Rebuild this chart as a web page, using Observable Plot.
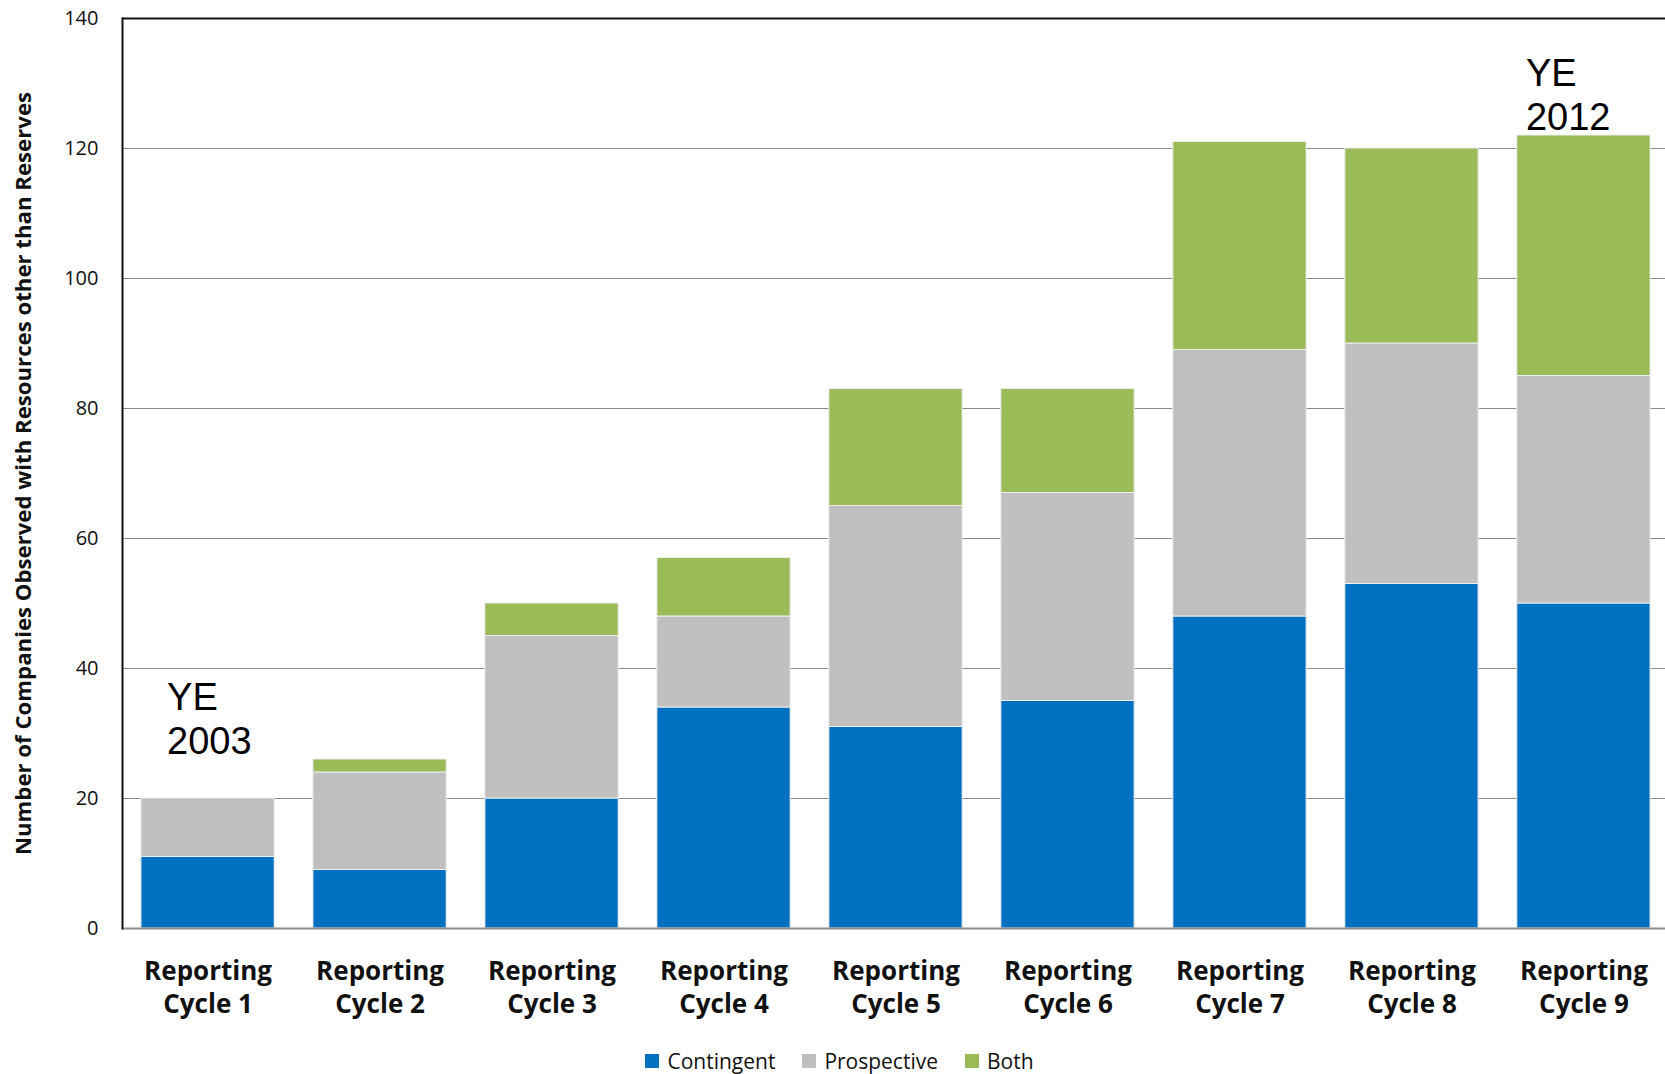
<!DOCTYPE html>
<html>
<head>
<meta charset="utf-8">
<script src="https://cdn.jsdelivr.net/npm/d3@7"></script>
<script src="https://cdn.jsdelivr.net/npm/@observablehq/plot@0.6"></script>
<style>
  html, body { margin: 0; padding: 0; background: #fff; overflow: hidden; }
  #chart { position: relative; width: 1665px; height: 1074px; overflow: hidden; }
  #legend {
    position: absolute; left: 0; top: 1049px; width: 1665px; height: 24px;
    display: flex; justify-content: center; align-items: center; gap: 27px;
    font-family: "Open Sans", sans-serif; font-size: 21px; line-height: 24px; color: #111;
    padding-left: 14px; box-sizing: border-box;
  }
  #legend .item { display: flex; align-items: center; gap: 8px; height: 24px; }
  #legend .sw { width: 14px; height: 14px; display: inline-block; }
</style>
</head>
<body>
<div id="chart"></div>
<script>
// Reporting cycles and company counts per resource class
const cycles = ["Reporting Cycle 1", "Reporting Cycle 2", "Reporting Cycle 3", "Reporting Cycle 4",
  "Reporting Cycle 5", "Reporting Cycle 6", "Reporting Cycle 7", "Reporting Cycle 8", "Reporting Cycle 9"];
const contingent  = [11, 9, 20, 34, 31, 35, 48, 53, 50];
const prospective = [9, 15, 25, 14, 34, 32, 41, 37, 35];
const both        = [0, 2, 5, 9, 18, 16, 32, 30, 37];

const seriesNames = ["Contingent", "Prospective", "Both"];
const seriesColors = ["#0070C0", "#BFBFBF", "#9BBB59"];
const yTicks = [0, 20, 40, 60, 80, 100, 120, 140];
const gridTicks = [20, 40, 60, 80, 100, 120];
const yLabel = "Number of Companies Observed with Resources other than Reserves";

// Callouts marking the first and last year-end
const startNote = {cycle: "Reporting Cycle 1", y: 38.5, text: "YE\n2003"};
const endNote   = {cycle: "Reporting Cycle 9", y: 134.5, text: "YE\n2012"};

const seriesValues = [contingent, prospective, both];
const rows = [];
cycles.forEach((c, i) => {
  seriesNames.forEach((s, j) => rows.push({cycle: c, series: s, value: seriesValues[j][i]}));
});

// The plot area runs slightly past the right edge of the page, so the last bar sits near the border
const chart = Plot.plot({
  width: 1665,
  height: 1048,
  marginTop: 18,
  marginBottom: 120,
  marginLeft: 122,
  marginRight: -4,
  style: {fontFamily: "Open Sans, sans-serif", background: "white"},
  x: {domain: cycles, paddingInner: 0.225, paddingOuter: 0.11, round: false},
  y: {domain: [0, 140]},
  color: {domain: seriesNames, range: seriesColors},
  marks: [
    Plot.ruleY(gridTicks, {stroke: "#8c8c8c", strokeWidth: 1.2}),
    Plot.barY(rows, Plot.stackY({
      x: "cycle", y: "value", fill: "series", order: seriesNames,
      stroke: "#eeeeee", strokeWidth: 1
    })),
    Plot.ruleY([0], {stroke: "#8c8c8c", strokeWidth: 2}),
    Plot.ruleY([140], {stroke: "#111", strokeWidth: 2}),
    Plot.axisY({
      ticks: yTicks, tickSize: 0, tickPadding: 24, label: null,
      fontSize: 20, fill: "#111", style: {letterSpacing: "1.2px"}
    }),
    Plot.axisX({
      tickSize: 0, tickPadding: 27, label: null, fontSize: 26, fontWeight: "bold",
      fill: "#111", lineHeight: 1.3, lineAnchor: "top",
      tickFormat: d => d.replace(" Cycle", "\nCycle")
    }),
    Plot.frame({anchor: "left", stroke: "#111", strokeWidth: 2}),
    Plot.text([yLabel], {
      text: d => d, frameAnchor: "left", textAnchor: "middle", lineAnchor: "middle",
      dx: -99, rotate: -90, fontSize: 22.2, fontWeight: "bold", fill: "#111"
    }),
    Plot.text([startNote], {
      x: "cycle", y: "y", text: "text", textAnchor: "start", lineAnchor: "top",
      dx: -41, fontSize: 38, lineHeight: 1.17, fill: "#000",
      fontFamily: "Liberation Sans, Arial, sans-serif"
    }),
    Plot.text([endNote], {
      x: "cycle", y: "y", text: "text", textAnchor: "start", lineAnchor: "top",
      dx: -58, fontSize: 38, lineHeight: 1.17, fill: "#000",
      fontFamily: "Liberation Sans, Arial, sans-serif"
    })
  ]
});

const root = document.getElementById("chart");
root.appendChild(chart);

const legend = document.createElement("div");
legend.id = "legend";
seriesNames.forEach((s, i) => {
  const item = document.createElement("span");
  item.className = "item";
  const sw = document.createElement("span");
  sw.className = "sw";
  sw.style.background = seriesColors[i];
  const lab = document.createElement("span");
  lab.textContent = s;
  item.appendChild(sw);
  item.appendChild(lab);
  legend.appendChild(item);
});
root.appendChild(legend);
</script>
</body>
</html>
